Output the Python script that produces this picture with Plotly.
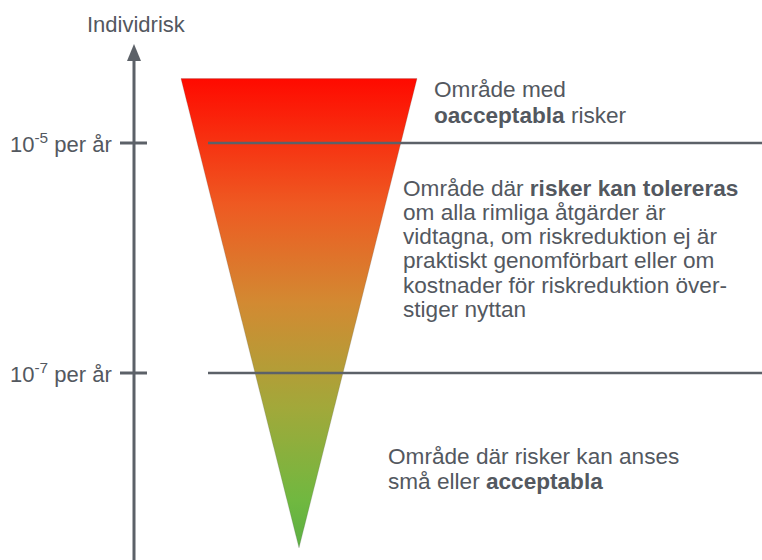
import plotly.graph_objects as go

# ---------------- data ----------------
risk_levels = [-5, -7]                       # log10(individual risk per year)
risk_level_labels = ["10<sup>-5</sup> per år", "10<sup>-7</sup> per år"]
axis_title = "Individrisk"
funnel_risk = [-4.44, -8.52]                 # top of funnel, apex (log10 risk)
funnel_width = [236, 0]                      # schematic width at top, at apex
region_texts = [
    ["Område med", "<b>oacceptabla</b> risker"],
    ["Område där <b>risker kan tolereras</b>",
     "om alla rimliga åtgärder är",
     "vidtagna, om riskreduktion ej är",
     "praktiskt genomförbart eller om",
     "kostnader för riskreduktion över-",
     "stiger nyttan"],
    ["Område där risker kan anses", "små eller <b>acceptabla</b>"],
]
funnel_colorscale = [[0.0, "#5cb043"], [0.1, "#70b840"], [0.3, "#a2a83a"],
                     [0.52, "#d28a32"], [0.73, "#ee5a22"], [1.0, "#ff0a00"]]

# ---------------- layout helpers ----------------
W, H = 762, 560
PX_PER_DECADE = 115
Y_REF_PX = 143          # pixel row of first risk level


def v(px):
    """pixel row -> log10 risk value on the y axis"""
    return risk_levels[0] - (px - Y_REF_PX) / PX_PER_DECADE


TEXT_COLOR = "#53585f"
LINE_COLOR = "#5c6168"
FONT = "Liberation Sans, Arial, Helvetica, sans-serif"
FS = 22
FS_RIGHT = 22.6
AXIS_X = 134
FUNNEL_CX = 299

fig = go.Figure()

# funnel with vertical gradient
fx = [FUNNEL_CX - funnel_width[0] / 2, FUNNEL_CX + funnel_width[0] / 2,
      FUNNEL_CX + funnel_width[1] / 2, FUNNEL_CX - funnel_width[0] / 2]
fy = [funnel_risk[0], funnel_risk[0], funnel_risk[1], funnel_risk[0]]
fig.add_trace(go.Scatter(
    x=fx, y=fy, mode="lines", fill="toself",
    line=dict(color="rgba(90,90,90,0.35)", width=0.6),
    fillgradient=dict(type="vertical", colorscale=funnel_colorscale,
                      start=funnel_risk[1], stop=funnel_risk[0]),
    hoverinfo="skip", showlegend=False))

shapes = []
# vertical axis
shapes.append(dict(type="line", x0=AXIS_X, x1=AXIS_X, y0=v(H + 10), y1=v(58),
                   line=dict(color=LINE_COLOR, width=3)))
# arrow head
shapes.append(dict(type="path",
                   path=f"M {AXIS_X-7},{v(61)} L {AXIS_X+7},{v(61)} L {AXIS_X},{v(44)} Z",
                   fillcolor=LINE_COLOR, line=dict(width=0)))
annotations = []
for lvl, lab in zip(risk_levels, risk_level_labels):
    shapes.append(dict(type="line", x0=120, x1=147, y0=lvl, y1=lvl,
                       line=dict(color=LINE_COLOR, width=3)))
    shapes.append(dict(type="line", x0=208, x1=W + 5, y0=lvl, y1=lvl,
                       line=dict(color=LINE_COLOR, width=2.5)))
    annotations.append(dict(x=114, y=lvl, text=lab, xanchor="right", yanchor="middle",
                            showarrow=False, font=dict(size=FS, color=TEXT_COLOR, family=FONT)))

annotations.append(dict(x=AXIS_X + 2, y=v(24), text=axis_title, xanchor="center", yanchor="middle",
                        showarrow=False, font=dict(size=FS, color=TEXT_COLOR, family=FONT)))

block_pos = [(432, [89, 115]),
             (401, [188, 212, 236, 260, 285, 309]),
             (386, [456, 481])]
for lines, (bx, ys) in zip(region_texts, block_pos):
    for t, py in zip(lines, ys):
        annotations.append(dict(x=bx, y=v(py), text=t, xanchor="left", yanchor="middle",
                                showarrow=False,
                                font=dict(size=FS_RIGHT, color=TEXT_COLOR, family=FONT)))

fig.update_layout(
    width=W, height=H, margin=dict(l=0, r=0, t=0, b=0),
    paper_bgcolor="white", plot_bgcolor="white",
    xaxis=dict(range=[0, W], visible=False, fixedrange=True),
    yaxis=dict(range=[v(H), v(0)], visible=False, fixedrange=True),
    shapes=shapes, annotations=annotations, showlegend=False,
)

fig.write_html("out.html", config={"displayModeBar": False},
               post_script="document.body.style.margin='0';")
